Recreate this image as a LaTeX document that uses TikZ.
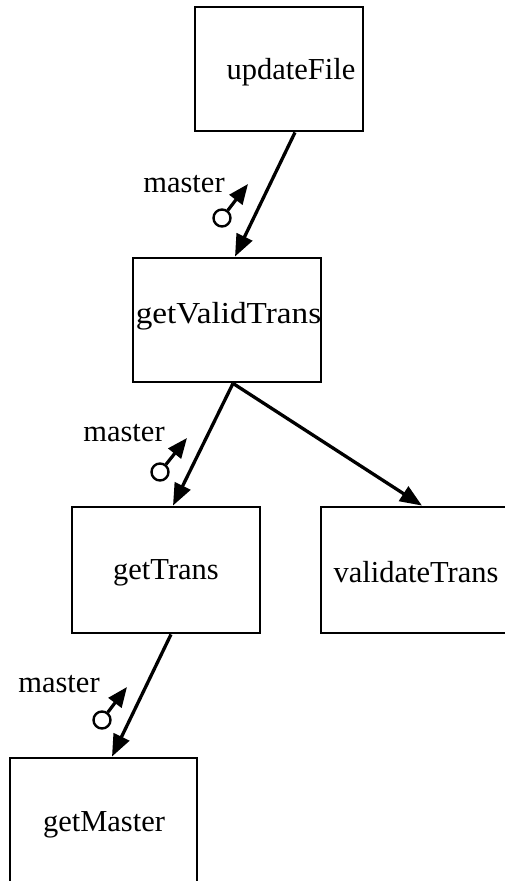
\documentclass[tikz,border=0pt]{standalone}
\usepackage{fontspec}
\setmainfont{Liberation Serif}
\usetikzlibrary{arrows.meta,calc}
\tikzset{
  modbox/.style={draw, line width=2.8pt, inner sep=0pt},
  modtext/.style={anchor=base, inner sep=0pt, font=\fontsize{30.5}{36}\selectfont},
  call/.style={line width=3.3pt, -{Triangle[length=22pt,width=17pt]}},
  couple/.style={draw, circle, line width=2.4pt, minimum size=17pt, inner sep=0pt},
  flow/.style={line width=3.2pt, -{Triangle[length=20pt,width=16pt]}},
  lbl/.style={anchor=base, inner sep=0pt, font=\fontsize{30.5}{36}\selectfont}
}
\begin{document}
\begin{tikzpicture}[x=1pt,y=1pt]
\useasboundingbox (0,0) rectangle (504,881);
% boxes
\node[modbox, minimum width=168pt, minimum height=124pt] (uf) at (279,812) {};
\node[modbox, minimum width=188pt, minimum height=124pt] (gvt) at (227,561) {};
\node[modbox, minimum width=188pt, minimum height=126pt] (gt) at (166,311) {};
\node[modbox, minimum width=188pt, minimum height=126pt] (vt) at (415,311) {};
\node[modbox, minimum width=187pt, minimum height=126pt] (gm) at (103.5,60) {};
% texts
\node[modtext] (tuf) at (291,801) {updateFile};
\node[modtext] (tgvt) at (228.5,557) {\scalebox{1.09}[1]{getValidTrans}};
\node[modtext] (tgt) at (166,301) {getTrans};
\node[modtext] (tvt) at (416,298) {validateTrans};
\node[modtext] (tgm) at (104,49) {getMaster};
% connectors
\draw[call] ([xshift=16pt]uf.south) -- ([xshift=8pt]gvt.north);
\draw[call] ([xshift=6pt]gvt.south) -- ([xshift=7pt]gt.north);
\draw[call] ([xshift=6pt]gvt.south) -- ([xshift=7pt]vt.north);
\draw[call] ([xshift=5pt]gt.south) -- ([xshift=8.5pt]gm.north);
% data couples
\node[couple] (c1) at (222,663) {};
\coordinate (t1) at (248,697);
\draw[flow] (c1) -- (t1);
\node[lbl] (l1) at (184,688) {master};
\node[couple] (c2) at (160,409) {};
\coordinate (t2) at (187,443);
\draw[flow] (c2) -- (t2);
\node[lbl] (l2) at (124,439) {master};
\node[couple] (c3) at (102,161) {};
\coordinate (t3) at (127,194);
\draw[flow] (c3) -- (t3);
\node[lbl] (l3) at (59,188) {master};
\end{tikzpicture}
\end{document}
